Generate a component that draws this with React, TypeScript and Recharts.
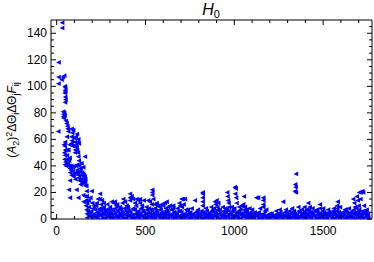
import { ScatterChart, Scatter, XAxis, YAxis } from "recharts";

// x: index of the pair, y: (A2)^2 dTheta_i dTheta_j F_ij

const peakPoints: [number, number][] = [
  [31, 148], [31, 144], [11, 118], [11, 107], [10, 102], [28, 105], [35, 107], [43, 108],
  [46, 100], [48, 99], [47, 97], [49, 96], [45, 95], [48, 92], [50, 90], [47, 88], [9, 66],
  [37, 81], [38, 79], [36, 77], [40, 76], [42, 80], [45, 78], [56, 72], [52, 74], [60, 70],
  [65, 66], [62, 68], [84, 68], [93, 67], [88, 65], [84, 62], [86, 59], [84, 57], [100, 61],
  [103, 58], [106, 55], [104, 52], [103, 50], [110, 56], [112, 54], [115, 52], [118, 58],
  [122, 60], [125, 57], [120, 50], [122, 47], [125, 44],
];

const decayPoints: [number, number][] = [
  [47, 58], [45, 55], [48, 52], [46, 48], [44, 45], [50, 43], [47, 41], [55, 52], [58, 48],
  [60, 45], [62, 42], [65, 40], [70, 44], [72, 40], [75, 38], [76, 35], [80, 37], [84, 33],
  [90, 36], [95, 32], [100, 34], [105, 30], [110, 40], [115, 37], [118, 35], [122, 33],
  [125, 31], [128, 29], [130, 36], [135, 38], [138, 33], [140, 42], [142, 30], [145, 27],
  [148, 34], [150, 39], [152, 30], [155, 27], [158, 32], [159, 47], [160, 28], [162, 25],
  [140, 28], [135, 26], [75, 29], [69, 22], [75, 16], [112, 22], [122, 16], [150, 18],
  [152, 13], [169, 21], [170, 17], [197, 21], [165, 10], [168, 7], [170, 4],
];

const decayExtra: [number, number][] = [
  [41, 56], [43, 50], [53, 40], [66, 52], [73, 46], [82, 40], [92, 39], [98, 40],
  [108, 35], [117, 41], [127, 40], [134, 30], [143, 35], [153, 33], [161, 30], [167, 25],
  [58, 62], [72, 56], [90, 55], [108, 62], [114, 64], [160, 17], [165, 14], [172, 12],
  [180, 14], [190, 16], [200, 12], [210, 10], [225, 12], [232, 15], [255, 14], [265, 12],
  [285, 11],
];

const spikePoints: [number, number][] = [
  [244, 19], [244, 15], [250, 11], [244, 8], [310, 13], [320, 12], [328, 13], [340, 11],
  [355, 9], [370, 12], [375, 15], [385, 13], [394, 10], [413, 19], [413, 16], [413, 14],
  [422, 17], [430, 15], [440, 12], [450, 15], [460, 14], [469, 15], [469, 12], [480, 10],
  [490, 14], [515, 14], [525, 13], [535, 11], [538, 22], [538, 20], [538, 18], [544, 15],
  [553, 11], [563, 12], [572, 10], [580, 9], [591, 11], [600, 10], [609, 12], [619, 13],
  [628, 9], [638, 10], [656, 10], [656, 8], [690, 12], [695, 10], [703, 15], [710, 15],
  [715, 11], [722, 15], [778, 14], [822, 20], [822, 19], [822, 16], [822, 13], [822, 10],
  [891, 13], [895, 11], [900, 14], [905, 9], [910, 12], [960, 20], [962, 17], [965, 14],
  [968, 12], [971, 9], [1003, 24], [1008, 23], [1005, 19], [1010, 16], [1013, 12], [1054, 17],
  [1050, 11], [1060, 9], [1070, 7], [1125, 16], [1134, 16], [1163, 16], [1163, 14],
  [1163, 11], [1163, 9], [1275, 13], [1255, 7], [1347, 34], [1343, 26], [1345, 24],
  [1341, 21], [1347, 20], [1416, 12], [1425, 9], [1420, 7], [1482, 11], [1482, 8],
  [1582, 13], [1579, 10], [1579, 8], [1622, 7], [1669, 15], [1675, 12], [1679, 9],
  [1690, 17], [1695, 14], [1703, 20], [1712, 20], [1720, 21], [1725, 20], [1700, 10],
  [1703, 7], [1710, 15],
];

const floorLow: [number, number][] = [
  [172, 1], [186, 2], [201, 0.5], [215, 1.5], [230, 1], [246, 2.5], [260, 0.5], [275, 1],
  [290, 2], [305, 1], [318, 0.5], [333, 1.5], [348, 1], [362, 2], [377, 0.5], [392, 1],
  [406, 2.5], [420, 1], [436, 0.5], [450, 1.5], [465, 1], [480, 2], [494, 0.5], [509, 1],
  [524, 1.5], [538, 1], [553, 0.5], [568, 2], [582, 1], [597, 0.5], [612, 1.5], [626, 1],
  [641, 2], [656, 0.5], [670, 1], [685, 1.5], [700, 1], [714, 0.5], [729, 2], [744, 1],
  [758, 0.5], [773, 1.5], [788, 1], [802, 2], [817, 0.5], [832, 1], [846, 1.5], [861, 1],
  [876, 0.5], [890, 2], [905, 1], [920, 0.5], [934, 1.5], [949, 1], [964, 2], [978, 0.5],
  [993, 1], [1008, 1.5], [1022, 1], [1037, 0.5], [1052, 2], [1066, 1], [1081, 0.5],
  [1096, 1.5], [1110, 1], [1125, 2], [1140, 0.5], [1154, 1], [1169, 1.5], [1184, 1],
  [1198, 0.5], [1213, 2], [1228, 1], [1242, 0.5], [1257, 1.5], [1272, 1], [1286, 2],
  [1301, 0.5], [1316, 1], [1330, 1.5], [1345, 1], [1360, 0.5], [1374, 2], [1389, 1],
  [1404, 0.5], [1418, 1.5], [1433, 1], [1448, 2], [1462, 0.5], [1477, 1], [1492, 1.5],
  [1506, 1], [1521, 0.5], [1536, 2], [1550, 1], [1565, 0.5], [1580, 1.5], [1594, 1],
  [1609, 2], [1624, 0.5], [1638, 1], [1653, 1.5], [1668, 1], [1682, 0.5], [1697, 2],
  [1712, 1], [1726, 0.5], [1741, 1.5], [1755, 1],
];

const floorLow2: [number, number][] = [
  [179, 3], [194, 2], [208, 3.5], [223, 2.5], [238, 3], [253, 2], [267, 3.5], [282, 2.5],
  [297, 3], [311, 2], [326, 3.5], [341, 2.5], [355, 3], [370, 2], [384, 3.5], [399, 2.5],
  [413, 3], [428, 2], [443, 3.5], [457, 2.5], [472, 3], [487, 2], [501, 3.5], [516, 2.5],
  [531, 3], [545, 2], [560, 3.5], [575, 2.5], [589, 3], [604, 2], [619, 3.5], [633, 2.5],
  [648, 3], [663, 2], [677, 3.5], [692, 2.5], [707, 3], [721, 2], [736, 3.5], [751, 2.5],
  [765, 3], [780, 2], [795, 3.5], [809, 2.5], [824, 3], [839, 2], [853, 3.5], [868, 2.5],
  [883, 3], [897, 2], [912, 3.5], [927, 2.5], [941, 3], [956, 2], [971, 3.5], [985, 2.5],
  [1000, 3], [1015, 2], [1029, 3.5], [1044, 2.5], [1059, 3], [1073, 2], [1088, 3.5],
  [1103, 2.5], [1117, 3], [1132, 2], [1147, 3], [1161, 2.5], [1176, 2], [1191, 3], [1205, 2],
  [1220, 2.5], [1235, 2], [1249, 3], [1264, 2], [1279, 2.5], [1293, 3], [1308, 2],
  [1323, 3.5], [1337, 2.5], [1352, 3], [1367, 2], [1381, 3.5], [1396, 2.5], [1411, 3],
  [1425, 2], [1440, 3.5], [1455, 2.5], [1469, 3], [1484, 2], [1499, 3.5], [1513, 2.5],
  [1528, 3], [1543, 2], [1557, 3.5], [1572, 2.5], [1587, 3], [1601, 2], [1616, 3.5],
  [1631, 2.5], [1645, 3], [1660, 2], [1675, 3.5], [1689, 2.5], [1704, 3], [1719, 2],
  [1733, 3.5], [1748, 2.5],
];

const floorMid: [number, number][] = [
  [178, 4], [195, 6], [210, 3], [228, 5], [240, 7], [258, 4], [270, 6], [285, 3], [298, 5],
  [312, 7], [325, 4], [340, 6], [352, 3], [366, 5], [380, 8], [395, 4], [408, 6], [425, 3],
  [440, 7], [455, 5], [470, 4], [485, 6], [500, 3], [515, 5], [530, 7], [545, 4], [560, 6],
  [575, 3], [590, 5], [605, 4], [620, 6], [640, 3], [660, 5], [675, 4], [695, 6], [712, 3],
  [728, 7], [745, 4], [765, 3], [785, 5], [800, 3], [815, 6], [835, 4], [850, 3], [865, 5],
  [880, 7], [896, 4], [912, 6], [928, 3], [945, 5], [958, 7], [975, 4], [990, 6], [1005, 3],
  [1020, 5], [1035, 7], [1048, 4], [1062, 6], [1078, 3], [1092, 5], [1108, 4], [1122, 3],
  [1138, 5], [1155, 3], [1172, 6], [1190, 3], [1210, 4], [1230, 3], [1250, 4], [1268, 3],
  [1285, 5], [1300, 3], [1318, 4], [1335, 6], [1352, 3], [1368, 5], [1385, 3], [1400, 6],
  [1412, 4], [1430, 5], [1445, 3], [1460, 6], [1475, 4], [1490, 3], [1505, 5], [1520, 3],
  [1538, 4], [1555, 6], [1570, 3], [1588, 5], [1602, 4], [1618, 3], [1635, 5], [1650, 3],
  [1665, 6], [1680, 4], [1695, 5], [1708, 3], [1722, 6], [1736, 4], [1748, 3],
];

const floorMid2: [number, number][] = [
  [175, 6], [190, 5], [217, 7], [235, 4], [250, 6], [262, 8], [278, 5], [292, 7], [305, 4],
  [318, 6], [330, 8], [345, 5], [360, 7], [373, 4], [388, 6], [402, 8], [415, 5], [432, 7],
  [445, 4], [460, 6], [475, 8], [492, 5], [508, 7], [524, 4], [538, 6], [552, 8], [566, 5],
  [582, 7], [596, 4], [612, 6], [628, 5], [645, 7], [665, 4], [685, 6], [702, 5], [720, 4],
  [735, 6], [752, 5], [770, 4], [790, 6], [808, 4], [825, 5], [845, 6], [858, 4], [873, 6],
  [890, 5], [905, 7], [920, 4], [940, 6], [952, 5], [968, 6], [982, 4], [996, 7], [1012, 5],
  [1026, 6], [1040, 4], [1056, 7], [1070, 5], [1085, 4], [1115, 5], [1130, 4], [1165, 4],
  [1200, 4], [1260, 5], [1295, 4], [1310, 6], [1328, 5], [1343, 4], [1362, 6], [1378, 4],
  [1392, 5], [1407, 7], [1422, 5], [1437, 4], [1452, 6], [1468, 5], [1482, 4], [1497, 6],
  [1512, 4], [1532, 5], [1548, 4], [1563, 5], [1578, 6], [1593, 4], [1610, 5], [1625, 6],
  [1642, 4], [1657, 5], [1672, 7], [1686, 5], [1700, 6], [1715, 4], [1728, 5], [1742, 6],
  [1752, 4],
];

const floorHigh: [number, number][] = [
  [182, 9], [205, 8], [222, 10], [265, 9], [280, 7], [300, 9], [335, 10], [358, 8], [400, 9],
  [430, 8], [448, 10], [478, 8], [505, 9], [520, 8], [555, 8], [585, 7], [615, 8], [648, 7],
  [680, 8], [705, 9], [740, 7], [760, 8], [795, 7], [840, 8], [870, 9], [885, 8], [918, 7],
  [935, 9], [950, 8], [985, 9], [1000, 8], [1028, 9], [1042, 10], [1085, 8], [1100, 7],
  [1145, 8], [1180, 7], [1235, 6], [1290, 7], [1325, 8], [1360, 9], [1380, 7], [1395, 9],
  [1440, 8], [1465, 7], [1500, 8], [1528, 7], [1560, 8], [1595, 9], [1628, 7], [1645, 8],
  [1688, 8], [1730, 10], [1745, 7],
];

const xTicks = [0, 100, 200, 300, 400, 500, 600, 700, 800, 900, 1000, 1100, 1200, 1300, 1400, 1500, 1600, 1700];
const yTicks = [0, 5, 10, 15, 20, 25, 30, 35, 40, 45, 50, 55, 60, 65, 70, 75, 80, 85, 90, 95, 100, 105, 110, 115, 120, 125, 130, 135, 140, 145];

const data = [
  ...floorLow, ...floorLow2, ...floorMid, ...floorMid2, ...floorHigh,
  ...spikePoints, ...decayPoints, ...decayExtra, ...peakPoints,
].map(([x, y]) => ({ x, y }));

const FONT = "'Liberation Sans', Arial, sans-serif";
const INK = "#000";

function Tri(props: any) {
  const { cx, cy } = props;
  if (cx == null || cy == null) return null;
  return <polygon points={`${cx - 2.5},${cy} ${cx + 2.2},${cy - 2.4} ${cx + 2.2},${cy + 2.4}`} fill="#0000ff" />;
}

function Nothing() {
  return null;
}

function BottomTick({ x, y, payload }: any) {
  const major = payload.value % 500 === 0;
  return (
    <g>
      <line x1={x} x2={x} y1={y} y2={y - (major ? 5 : 3)} stroke={INK} />
      {major && (
        <text x={x} y={y + 16} textAnchor="middle" fontSize={12} fontFamily={FONT} fill={INK}>{payload.value}</text>
      )}
    </g>
  );
}

function TopTick({ x, y, payload }: any) {
  const major = payload.value % 500 === 0;
  return <line x1={x} x2={x} y1={y} y2={y + (major ? 5 : 3)} stroke={INK} />;
}

function LeftTick({ x, y, payload }: any) {
  const major = payload.value % 20 === 0;
  return (
    <g>
      <line x1={x} x2={x + (major ? 5 : 3)} y1={y} y2={y} stroke={INK} />
      {major && (
        <text x={x - 4} y={y + 4} textAnchor="end" fontSize={12} fontFamily={FONT} fill={INK}>{payload.value}</text>
      )}
    </g>
  );
}

function RightTick({ x, y, payload }: any) {
  const major = payload.value % 20 === 0;
  return <line x1={x} x2={x - (major ? 5 : 3)} y1={y} y2={y} stroke={INK} />;
}

export default function App() {
  const xDomain: [number, number] = [-32, 1775];
  const yDomain: [number, number] = [0, 150];
  return (
    <div style={{ position: "absolute", left: 0, top: 0, width: 374, height: 262, background: "#fff" }}>
      <ScatterChart width={374} height={262} margin={{ top: 19, right: 1, bottom: 0, left: 0 }}>
        <XAxis xAxisId="b" dataKey="x" type="number" domain={xDomain} allowDataOverflow ticks={xTicks}
          orientation="bottom" height={43} tickSize={0} tickMargin={0} tickLine={false}
          axisLine={{ stroke: INK }} tick={<BottomTick />} interval={0} />
        <XAxis xAxisId="t" dataKey="x" type="number" domain={xDomain} allowDataOverflow ticks={xTicks}
          orientation="top" height={1} tickSize={0} tickMargin={0} tickLine={false}
          axisLine={{ stroke: INK }} tick={<TopTick />} interval={0} />
        <YAxis yAxisId="l" dataKey="y" type="number" domain={yDomain} allowDataOverflow ticks={yTicks}
          orientation="left" width={51} tickSize={0} tickMargin={0} tickLine={false}
          axisLine={{ stroke: INK }} tick={<LeftTick />} interval={0} />
        <YAxis yAxisId="r" dataKey="y" type="number" domain={yDomain} allowDataOverflow ticks={yTicks}
          orientation="right" width={1} tickSize={0} tickMargin={0} tickLine={false}
          axisLine={{ stroke: INK }} tick={<RightTick />} interval={0} />
        {/* frame only: top and right axes need a series to render */}
        <Scatter xAxisId="t" yAxisId="r" data={data} shape={<Nothing />} isAnimationActive={false} />
        <Scatter xAxisId="b" yAxisId="l" data={data} shape={<Tri />} isAnimationActive={false} />
      </ScatterChart>
      <svg width={374} height={262} style={{ position: "absolute", left: 0, top: 0, pointerEvents: "none" }}>
        <text x={211} y={15} textAnchor="middle" fontSize={16} fontFamily={FONT} fill={INK}>
          <tspan fontStyle="italic">H</tspan>
          <tspan fontSize={11} dy={3}>0</tspan>
        </text>
        <text transform="translate(16,120) rotate(-90)" textAnchor="middle" fontSize={12}
          fontFamily="'Liberation Sans Narrow', 'Liberation Sans', sans-serif" fill={INK}>
          (<tspan fontStyle="italic">A</tspan>
          <tspan fontSize={9} dy={3}>2</tspan>
          <tspan dy={-3}>)</tspan>
          <tspan fontSize={9} dy={-4}>2</tspan>
          <tspan dy={4}>ΔΘ</tspan>
          <tspan fontSize={9} dy={3}>i</tspan>
          <tspan dy={-3}>ΔΘ</tspan>
          <tspan fontSize={9} dy={3}>j</tspan>
          <tspan dy={-3} fontStyle="italic">F</tspan>
          <tspan fontSize={9} dy={3}>ij</tspan>
        </text>
      </svg>
    </div>
  );
}
